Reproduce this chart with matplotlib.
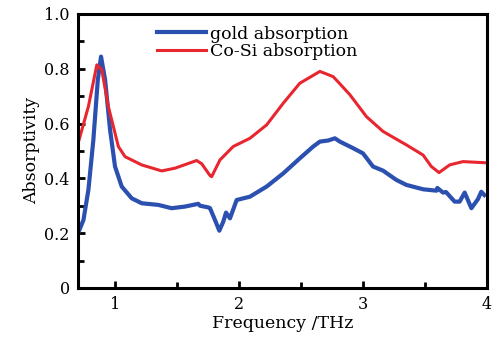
"""
Absorptivity spectra: gold vs Co-Si
"""
import matplotlib
matplotlib.use("Agg")
import matplotlib.pyplot as plt
from matplotlib.ticker import MultipleLocator, FixedLocator

# gold absorption (blue)
gold_freq = [0.70, 0.743, 0.783, 0.823, 0.859, 0.885, 0.918, 0.958, 0.998, 1.052,
             1.133, 1.214, 1.348, 1.455, 1.563, 1.670, 1.684, 1.751, 1.765, 1.805,
             1.84, 1.872, 1.894, 1.926, 1.98, 2.087, 2.222, 2.356, 2.49, 2.598,
             2.652, 2.719, 2.773, 2.813, 2.84, 2.92, 3.0, 3.081, 3.162, 3.27,
             3.35, 3.485, 3.593, 3.60, 3.646, 3.67, 3.74, 3.78, 3.821, 3.875,
             3.928, 3.955, 3.98]
gold_abs = [0.20, 0.248, 0.358, 0.540, 0.759, 0.844, 0.759, 0.577, 0.443, 0.370,
            0.327, 0.309, 0.303, 0.291, 0.297, 0.307, 0.300, 0.294, 0.291, 0.248,
            0.209, 0.242, 0.275, 0.254, 0.321, 0.333, 0.370, 0.418, 0.473, 0.516,
            0.534, 0.538, 0.546, 0.534, 0.528, 0.510, 0.491, 0.443, 0.428, 0.394,
            0.376, 0.360, 0.355, 0.365, 0.348, 0.350, 0.315, 0.315, 0.348, 0.291,
            0.324, 0.351, 0.339]

# Co-Si absorption (red)
cosi_freq = [0.70, 0.783, 0.851, 0.891, 0.944, 1.025, 1.079, 1.213, 1.375, 1.482,
             1.657, 1.698, 1.765, 1.778, 1.845, 1.952, 2.087, 2.222, 2.356, 2.49,
             2.652, 2.759, 2.813, 2.894, 3.028, 3.162, 3.35, 3.485, 3.552, 3.614,
             3.70, 3.807, 3.98]
cosi_abs = [0.528, 0.662, 0.814, 0.796, 0.662, 0.516, 0.479, 0.449, 0.427, 0.437,
            0.465, 0.453, 0.410, 0.406, 0.467, 0.516, 0.546, 0.595, 0.674, 0.747,
            0.790, 0.771, 0.745, 0.705, 0.625, 0.571, 0.522, 0.485, 0.443, 0.421,
            0.449, 0.461, 0.457]

y_ticks = [0, 0.2, 0.4, 0.6, 0.8, 1.0]
y_labels = ["0", "0.2", "0.4", "0.6", "0.8", "1.0"]
x_ticks = [1, 2, 3, 4]

plt.rcParams["font.family"] = ["DejaVu Serif"]

fig = plt.figure(figsize=(5.04, 3.38), dpi=100)
ax = fig.add_axes([0.155, 0.148, 0.811, 0.811])

ax.plot(gold_freq, gold_abs, color="#2b50b0", lw=3.0, label="gold absorption")
ax.plot(cosi_freq, cosi_abs, color="#e8262f", lw=2.2, label="Co-Si absorption")

ax.set_xlim(0.7, 4.0)
ax.set_ylim(0, 1.0)
ax.set_xticks(x_ticks)
ax.set_yticks(y_ticks)
ax.set_yticklabels(y_labels)
ax.xaxis.set_minor_locator(FixedLocator([1.5, 2.5, 3.5]))
ax.yaxis.set_minor_locator(MultipleLocator(0.1))
ax.tick_params(which="both", direction="in", width=2, labelsize=11.5, pad=6)
ax.tick_params(which="major", length=5)
ax.tick_params(which="minor", length=4)
for s in ax.spines.values():
    s.set_linewidth(2.2)

ax.set_xlabel("Frequency /THz", fontsize=12.5, labelpad=1)
ax.set_ylabel("Absorptivity", fontsize=12.5, labelpad=3)

ax.legend(loc="upper left", bbox_to_anchor=(0.185, 0.97), frameon=False,
          fontsize=12.5, handlelength=2.8, handletextpad=0.25, labelspacing=0.05,
          borderpad=0.2, borderaxespad=0)

plt.savefig("out.png", dpi=100)
